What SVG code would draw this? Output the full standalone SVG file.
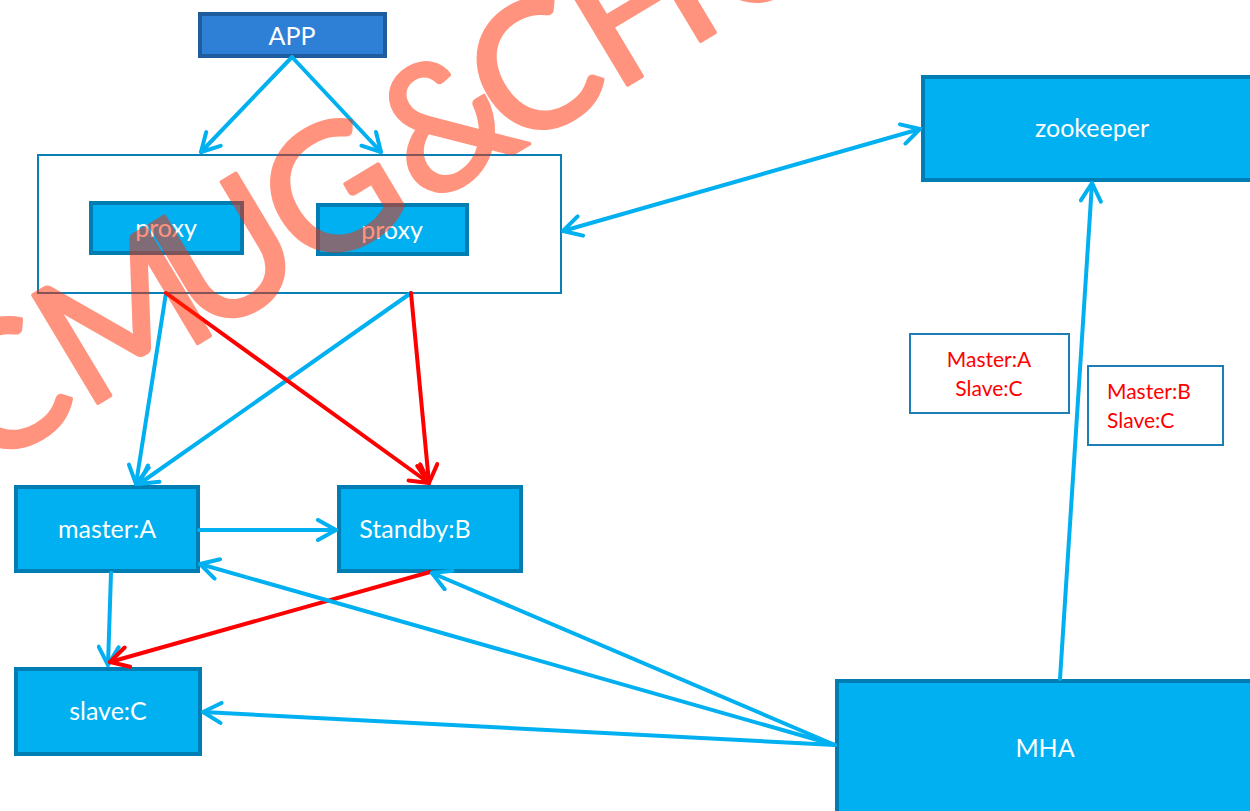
<svg xmlns="http://www.w3.org/2000/svg" width="1250" height="811" viewBox="0 0 1250 811">
<style>
.node{fill:#00B0F0;stroke:#007DB2;stroke-width:4}
.app{fill:#2E7FD6;stroke:#1F5C9E;stroke-width:4}
.note{fill:#FFFFFF;stroke:#1E7DB4;stroke-width:2}
.lbl{font-family:Lato,"Open Sans","Liberation Sans",sans-serif;font-size:25px;fill:#FFFFFF;text-anchor:middle}
.red{font-family:Lato,"Open Sans","Liberation Sans",sans-serif;font-size:21px;fill:#FF0000}
.b{stroke:#00B0F0;stroke-width:4;fill:none;stroke-linecap:round}
.r{stroke:#FF0000;stroke-width:4;fill:none;stroke-linecap:round}
</style>
<defs>
<marker id="ab" viewBox="0 0 24 24" refX="21" refY="12" markerWidth="24" markerHeight="24" markerUnits="userSpaceOnUse" orient="auto-start-reverse">
<path d="M3,2 L21,12 L3,22" fill="none" stroke="#00B0F0" stroke-width="4" stroke-linecap="round" stroke-linejoin="round"/>
</marker>
<marker id="ar" viewBox="0 0 24 24" refX="21" refY="12" markerWidth="24" markerHeight="24" markerUnits="userSpaceOnUse" orient="auto">
<path d="M3,2 L21,12 L3,22" fill="none" stroke="#FF0000" stroke-width="4" stroke-linecap="round" stroke-linejoin="round"/>
</marker>
</defs>
<rect width="1250" height="811" fill="#FFFFFF"/>

<g id="proxy-group">
<rect x="38" y="155" width="523" height="138" fill="#FFFFFF" stroke="#0A7FB5" stroke-width="2"/>
</g>
<g id="app">
<rect class="app" x="200" y="14" width="185" height="42"/>
<text class="lbl" x="292" y="45">APP</text>
</g>
<g id="proxy1">
<rect class="node" x="91" y="203" width="151" height="50"/>
<text class="lbl" x="166" y="237">proxy</text>
</g>
<g id="proxy2">
<rect class="node" x="318" y="205" width="149" height="49"/>
<text class="lbl" x="392" y="239">proxy</text>
</g>
<g id="zookeeper">
<rect class="node" x="923" y="77" width="340" height="103"/>
<text class="lbl" x="1092" y="137">zookeeper</text>
</g>
<g id="note-a">
<rect class="note" x="910" y="334" width="159" height="79"/>
<text class="red" x="989" y="367" text-anchor="middle">Master:A</text>
<text class="red" x="989" y="396" text-anchor="middle">Slave:C</text>
</g>
<g id="note-b">
<rect class="note" x="1088" y="366" width="135" height="79"/>
<text class="red" x="1107" y="399">Master:B</text>
<text class="red" x="1107" y="428">Slave:C</text>
</g>
<g id="masterA">
<rect class="node" x="16" y="487" width="182" height="84"/>
<text class="lbl" x="107" y="538">master:A</text>
</g>
<g id="standbyB">
<rect class="node" x="339" y="487" width="182" height="84"/>
<text class="lbl" x="415" y="538">Standby:B</text>
</g>
<g id="slaveC">
<rect class="node" x="16" y="669" width="184" height="85"/>
<text class="lbl" x="108" y="720">slave:C</text>
</g>
<g id="mha">
<rect class="node" x="837" y="681" width="420" height="140"/>
<text class="lbl" x="1045" y="757">MHA</text>
</g>

<g id="connectors">
<line class="b" x1="292" y1="57" x2="201" y2="152" marker-end="url(#ab)"/>
<line class="b" x1="292" y1="57" x2="381" y2="152" marker-end="url(#ab)"/>
<line class="b" x1="563" y1="231" x2="920" y2="129" marker-start="url(#ab)" marker-end="url(#ab)"/>
<line class="b" x1="1060" y1="679" x2="1092" y2="183" marker-end="url(#ab)"/>
<line class="b" x1="166" y1="293" x2="136" y2="484" marker-end="url(#ab)"/>
<line class="b" x1="411" y1="293" x2="139" y2="484" marker-end="url(#ab)"/>
<line class="r" x1="166" y1="293" x2="429" y2="483" marker-end="url(#ar)"/>
<line class="r" x1="411" y1="293" x2="429" y2="483" marker-end="url(#ar)"/>
<line class="b" x1="199" y1="530" x2="336" y2="530" marker-end="url(#ab)"/>
<line class="b" x1="111" y1="573" x2="108" y2="665" marker-end="url(#ab)"/>
<line class="r" x1="430" y1="572" x2="110" y2="662" marker-end="url(#ar)"/>
<line class="b" x1="835" y1="745" x2="200" y2="564" marker-end="url(#ab)"/>
<line class="b" x1="835" y1="745" x2="432" y2="573" marker-end="url(#ab)"/>
<line class="b" x1="835" y1="745" x2="203" y2="712" marker-end="url(#ab)"/>
</g>

<g id="watermark" opacity="0.5">
<text transform="translate(204,339.4) rotate(-31)" x="-258 -140 -2 121 256 362 478 610" y="0" font-family="Lato,'Open Sans','Liberation Sans',sans-serif" font-size="176" fill="#FF2A00" stroke="#FF2A00" stroke-width="3.5" stroke-linejoin="round">CMUG&amp;CHU</text>
</g>
</svg>
